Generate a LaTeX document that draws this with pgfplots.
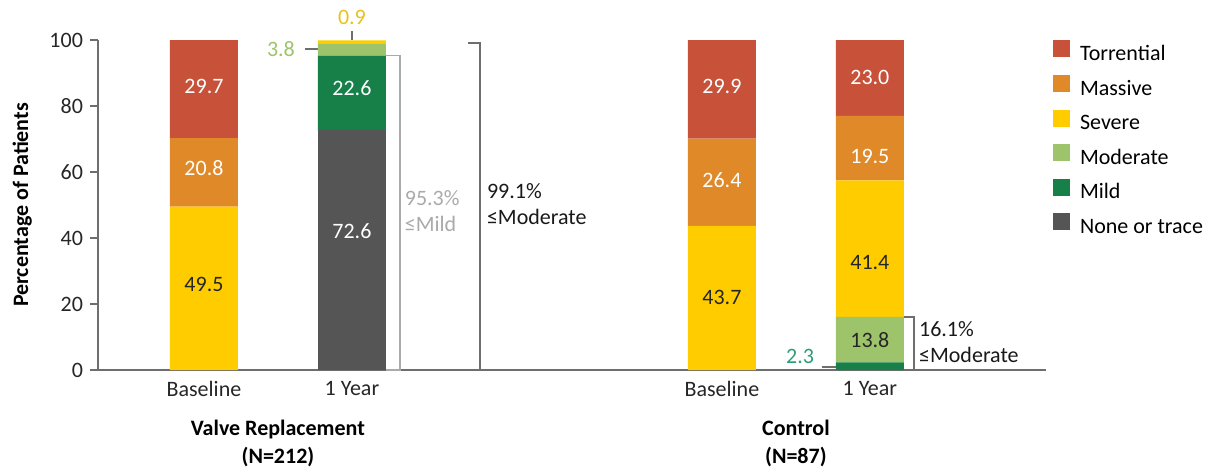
\documentclass[border=0pt]{standalone}
\usepackage{pgfplots}
\pgfplotsset{compat=1.18}
\usepackage{fontspec}
\setmainfont{Carlito}

\definecolor{torr}{RGB}{200,81,58}
\definecolor{mass}{RGB}{224,137,40}
\definecolor{seve}{RGB}{255,204,0}
\definecolor{mode}{RGB}{157,196,107}
\definecolor{mild}{RGB}{22,128,72}
\definecolor{trace}{RGB}{85,85,85}
\definecolor{axisgray}{RGB}{110,110,110}
\definecolor{lightbr}{RGB}{170,170,170}
\definecolor{yeltxt}{RGB}{232,194,26}
\definecolor{teal}{RGB}{46,156,120}

\begin{document}
\begin{tikzpicture}[font=\fontsize{11}{13}\selectfont]
\begin{axis}[
    scale only axis,
    width=474pt, height=165pt,
    ybar stacked,
    bar width=0.46,
    xmin=0.284, xmax=6.69,
    ymin=0, ymax=100,
    axis x line*=bottom, axis y line*=left,
    axis line style={draw=axisgray, line width=0.8pt, -},
    xtick={1,2,4.5,5.5},
    xticklabels={Baseline,1 Year,Baseline,1 Year},
    x tick style={draw=none},
    xticklabel style={yshift=2pt},
    ytick={0,20,...,100},
    y tick style={draw=axisgray, line width=0.8pt},
    tick align=outside,
    major tick length=4pt,
    tick label style={text=black!85},
    /pgf/number format/assume math mode=true,
    ylabel={\bfseries Percentage of Patients},
    ylabel style={at={(axis description cs:-0.080,0.5)}, anchor=center},
    clip=false,
    reverse legend,
    legend cell align=left,
    legend style={draw=none, fill=none, at={(1.007,1.0)}, anchor=north west,
        inner sep=0pt, row sep=5.3pt, column sep=5pt,
        nodes={inner sep=0pt, text height=8pt, text depth=2pt}},
    every axis plot post/.append style={draw=none,
        legend image code/.code={\fill[##1] (0pt,-1.5pt) rectangle (8.5pt,7pt);}},
]
% order: bottom of stack first
\addplot[fill=trace] coordinates {(1,0) (2,72.6) (4.5,0) (5.5,0)};
\addlegendentry{None or trace}
\addplot[fill=mild] coordinates {(1,0) (2,22.6) (4.5,0) (5.5,2.3)};
\addlegendentry{Mild}
\addplot[fill=mode] coordinates {(1,0) (2,3.8) (4.5,0) (5.5,13.8)};
\addlegendentry{Moderate}
\addplot[fill=seve] coordinates {(1,49.5) (2,0.9) (4.5,43.7) (5.5,41.4)};
\addlegendentry{Severe}
\addplot[fill=mass] coordinates {(1,20.8) (2,0) (4.5,26.4) (5.5,19.5)};
\addlegendentry{Massive}
\addplot[fill=torr] coordinates {(1,29.7) (2,0) (4.5,29.9) (5.5,23.0)};
\addlegendentry{Torrential}

% anchor points for the labels inside the bars
\coordinate (a1) at (axis cs:1,85.8);
\coordinate (a2) at (axis cs:1,61.2);
\coordinate (a3) at (axis cs:1,25.8);
\coordinate (b1) at (axis cs:2,85.5);
\coordinate (b2) at (axis cs:2,42.1);
\coordinate (c1) at (axis cs:4.5,85.8);
\coordinate (c2) at (axis cs:4.5,57.6);
\coordinate (c3) at (axis cs:4.5,22.1);
\coordinate (d1) at (axis cs:5.5,88.8);
\coordinate (d2) at (axis cs:5.5,64.8);
\coordinate (d3) at (axis cs:5.5,32.7);
\coordinate (d4) at (axis cs:5.5,9.1);

% small segments labelled outside
\draw[axisgray, line width=0.8pt] (axis cs:2,100) -- (axis cs:2,102.7);
\node[text=yeltxt] at (axis cs:2,106.7) {0.9};
\draw[axisgray, line width=0.8pt] (axis cs:1.682,97.3) -- (axis cs:1.77,97.3);
\node[text=mode, anchor=east] at (axis cs:1.662,97.3) {3.8};
\draw[axisgray, line width=0.8pt] (axis cs:5.176,1.0) -- (axis cs:5.27,1.0);
\node[text=teal, anchor=east] at (axis cs:5.17,4.2) {2.3};

% brackets
\draw[lightbr, line width=0.8pt] (axis cs:2.23,95.3) -- (axis cs:2.324,95.3) -- (axis cs:2.324,0) -- (axis cs:2.23,0);
\node[text=lightbr, anchor=west, align=left] at (axis cs:2.31,48.2) {95.3\%\\≤Mild};
\draw[axisgray, line width=0.8pt] (axis cs:2.784,99.1) -- (axis cs:2.865,99.1) -- (axis cs:2.865,0) -- (axis cs:2.784,0);
\node[text=black!90, anchor=west, align=left] at (axis cs:2.865,50.3) {99.1\%\\≤Moderate};
\draw[axisgray, line width=0.8pt] (axis cs:5.73,16.1) -- (axis cs:5.797,16.1) -- (axis cs:5.797,0) -- (axis cs:5.73,0);
\node[text=black!90, anchor=west, align=left] at (axis cs:5.785,8.5) {16.1\%\\≤Moderate};

% group labels
\node[font=\fontsize{11}{14}\selectfont\bfseries, align=center] at (axis cs:1.5,-22.4) {Valve Replacement\\(N=212)};
\node[font=\fontsize{11}{14}\selectfont\bfseries, align=center] at (axis cs:5,-22.4) {Control\\(N=87)};
\end{axis}
\node[text=white] at (a1) {29.7};
\node[text=white] at (a2) {20.8};
\node[text=black!85] at (a3) {49.5};
\node[text=white] at (b1) {22.6};
\node[text=white] at (b2) {72.6};
\node[text=white] at (c1) {29.9};
\node[text=white] at (c2) {26.4};
\node[text=black!85] at (c3) {43.7};
\node[text=white] at (d1) {23.0};
\node[text=white] at (d2) {19.5};
\node[text=black!85] at (d3) {41.4};
\node[text=black!85] at (d4) {13.8};
\path (current axis.south west) ++(-49pt,-49.5pt) rectangle ++(606pt,234.5pt);
\end{tikzpicture}
\end{document}
